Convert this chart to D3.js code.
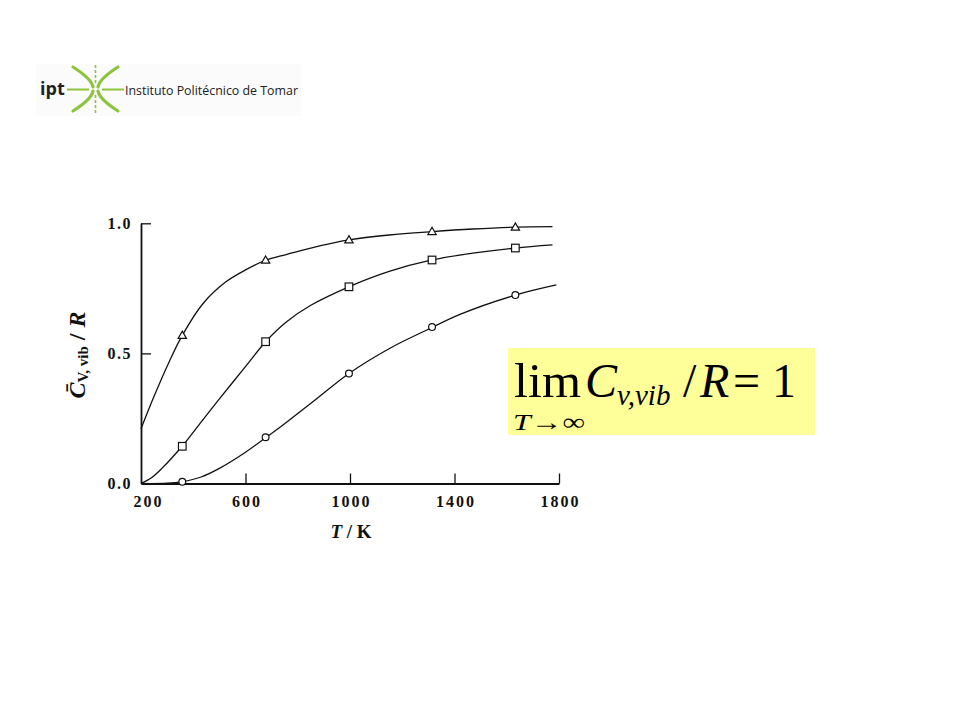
<!DOCTYPE html>
<html>
<head>
<meta charset="utf-8">
<script src="https://cdn.jsdelivr.net/npm/d3@7"></script>
<style>
  html, body { margin: 0; padding: 0; background: #fff; }
  svg { display: block; }
</style>
</head>
<body>
<svg id="chart" width="960" height="720"></svg>
<script>
// ---- data ----
const xTicks = [200, 600, 1000, 1400, 1800];
const yTicks = [0.0, 0.5, 1.0];
const markerT = [358, 677, 996, 1314, 1633];
const triVals = [0.569, 0.858, 0.936, 0.968, 0.985];
const sqVals  = [0.143, 0.545, 0.756, 0.859, 0.905];
const cirVals = [0.007, 0.178, 0.423, 0.601, 0.724];
// curve traces (T, C/R)
const triCurveT = [200, 250, 308, 358, 436, 525, 602, 677, 755, 850, 996, 1150, 1314, 1470, 1633, 1775];
const triCurveV = [0.21, 0.335, 0.468, 0.569, 0.690, 0.775, 0.822, 0.858, 0.880, 0.905, 0.936, 0.955, 0.968, 0.978, 0.985, 0.987];
const sqCurveT = [200, 240, 280, 358, 430, 500, 602, 677, 755, 850, 996, 1150, 1314, 1470, 1633, 1775];
const sqCurveV = [0.0, 0.022, 0.058, 0.144, 0.236, 0.325, 0.452, 0.545, 0.620, 0.685, 0.756, 0.815, 0.859, 0.885, 0.905, 0.917];
const cirCurveT = [200, 300, 358, 430, 500, 600, 677, 732, 860, 996, 1153, 1294, 1421, 1633, 1790];
const cirCurveV = [0.0, 0.001, 0.007, 0.025, 0.058, 0.12, 0.176, 0.216, 0.316, 0.423, 0.520, 0.590, 0.650, 0.724, 0.763];

const svg = d3.select("#chart");

// ---- logo ----
const logo = svg.append("g");
logo.append("rect").attr("x", 36).attr("y", 64).attr("width", 265).attr("height", 52).attr("fill", "#fbfbfb");
logo.append("text").attr("x", 40).attr("y", 95)
  .attr("font-family", "'Open Sans', 'DejaVu Sans', sans-serif").attr("font-weight", "bold")
  .attr("font-size", 18).attr("fill", "#222").text("ipt");
const green = "#8cc43c";
logo.append("path")
  .attr("d", "M73,67 C84,74 92,81 93,87 M73,111 C84,104 92,97 93,91 M118,67 C107,74 99,81 98,87 M118,111 C107,104 99,97 98,91")
  .attr("fill", "none").attr("stroke", green).attr("stroke-width", 3.2).attr("stroke-linecap", "round");
logo.append("path")
  .attr("d", "M67,89.5 H89 M102,89.5 H124")
  .attr("fill", "none").attr("stroke", green).attr("stroke-width", 2.2);
logo.append("path")
  .attr("d", "M95.5,65 V84 M95.5,95 V113")
  .attr("fill", "none").attr("stroke", green).attr("stroke-width", 1.6).attr("stroke-dasharray", "3,2");
logo.append("text").attr("x", 125).attr("y", 94.5)
  .attr("font-family", "'Open Sans', 'Noto Sans', sans-serif")
  .attr("font-size", 13.5).attr("fill", "#222")
  .attr("textLength", 173).attr("lengthAdjust", "spacingAndGlyphs")
  .text("Instituto Politécnico de Tomar");

// ---- chart ----
const x = d3.scaleLinear().domain([200, 1800]).range([141, 559]);
const y = d3.scaleLinear().domain([0, 1]).range([483.5, 223.3]);
const serif = "'Liberation Serif', 'DejaVu Serif', serif";
const ink = "#111";

const xAxis = svg.append("g").attr("transform", `translate(0,${y(0)})`)
  .call(d3.axisBottom(x).tickValues(xTicks).tickSizeInner(-10).tickSizeOuter(0).tickPadding(12).tickFormat(d3.format("d")));
xAxis.select(".domain").attr("stroke", ink).attr("stroke-width", 1.8);
xAxis.selectAll(".tick line").attr("stroke", ink).attr("stroke-width", 1.3);
xAxis.selectAll(".tick").filter(d => d === 200).select("line").remove();
xAxis.selectAll(".tick text")
  .attr("font-family", serif).attr("font-weight", "bold").attr("font-size", 16)
  .attr("letter-spacing", "2px").attr("fill", ink)
  .attr("dx", d => d === 200 ? 7 : 1);

const yAxis = svg.append("g").attr("transform", `translate(${x(200)},0)`)
  .call(d3.axisLeft(y).tickValues(yTicks).tickSizeInner(-10).tickSizeOuter(0).tickPadding(9).tickFormat(d3.format(".1f")));
yAxis.select(".domain").attr("stroke", ink).attr("stroke-width", 1.8);
yAxis.selectAll(".tick line").attr("stroke", ink).attr("stroke-width", 1.3);
yAxis.selectAll(".tick").filter(d => d === 0).select("line").remove();
yAxis.selectAll(".tick text")
  .attr("font-family", serif).attr("font-weight", "bold").attr("font-size", 16)
  .attr("letter-spacing", "1.5px").attr("fill", ink);

// curves
const line = d3.line().x(d => x(d[0])).y(d => y(d[1])).curve(d3.curveCatmullRom.alpha(0.5));
const curves = [
  d3.zip(triCurveT, triCurveV),
  d3.zip(sqCurveT, sqCurveV),
  d3.zip(cirCurveT, cirCurveV)
];
svg.append("g").selectAll("path").data(curves).join("path")
  .attr("d", line).attr("fill", "none").attr("stroke", ink).attr("stroke-width", 1.3);

// markers
const tri = d3.symbol().type(d3.symbolTriangle).size(30);
svg.append("g").selectAll("path").data(d3.zip(markerT, triVals)).join("path")
  .attr("d", tri).attr("transform", d => `translate(${x(d[0])},${y(d[1]) + 0.5})`)
  .attr("fill", "#fff").attr("stroke", ink).attr("stroke-width", 1.2);
svg.append("g").selectAll("rect").data(d3.zip(markerT, sqVals)).join("rect")
  .attr("x", d => x(d[0]) - 3.8).attr("y", d => y(d[1]) - 3.8)
  .attr("width", 7.6).attr("height", 7.6)
  .attr("fill", "#fff").attr("stroke", ink).attr("stroke-width", 1.2);
svg.append("g").selectAll("circle").data(d3.zip(markerT, cirVals)).join("circle")
  .attr("cx", d => x(d[0])).attr("cy", d => y(d[1])).attr("r", 3.4)
  .attr("fill", "#fff").attr("stroke", ink).attr("stroke-width", 1.2);

// axis titles
const xt = svg.append("text").attr("x", 351).attr("y", 538).attr("text-anchor", "middle")
  .attr("font-family", serif).attr("font-weight", "bold").attr("font-size", 19).attr("fill", ink);
xt.append("tspan").attr("font-style", "italic").text("T");
xt.append("tspan").text(" / K");

const yt = svg.append("text").attr("transform", "translate(85,355) rotate(-90)")
  .attr("text-anchor", "middle")
  .attr("font-family", serif).attr("font-weight", "bold").attr("font-size", 24).attr("fill", ink);
yt.append("tspan").attr("font-style", "italic").text("C\u0304");
yt.append("tspan").attr("font-size", 15).attr("dy", 3).text("V, vib");
yt.append("tspan").attr("dy", -3).text(" / ");
yt.append("tspan").attr("font-style", "italic").text("R");

// ---- formula box ----
const fb = svg.append("g");
fb.append("rect").attr("x", 508).attr("y", 348).attr("width", 307).attr("height", 87).attr("fill", "#ffff99");
const tn = "'Liberation Serif', 'Times New Roman', serif";
fb.append("text").attr("x", 514).attr("y", 397).attr("font-family", tn).attr("font-size", 48)
  .attr("textLength", 67).attr("lengthAdjust", "spacingAndGlyphs").attr("fill", "#000").text("lim");
fb.append("text").attr("x", 585).attr("y", 397).attr("font-family", tn).attr("font-style", "italic").attr("font-size", 48).attr("fill", "#000").text("C");
fb.append("text").attr("x", 617).attr("y", 405).attr("font-family", tn).attr("font-style", "italic").attr("font-size", 29).attr("fill", "#000").text("v,vib");
fb.append("text").attr("x", 683).attr("y", 397).attr("font-family", tn).attr("font-size", 48).attr("fill", "#000").text("/");
fb.append("text").attr("x", 700).attr("y", 397).attr("font-family", tn).attr("font-style", "italic").attr("font-size", 48).attr("fill", "#000").text("R");
fb.append("text").attr("x", 733).attr("y", 397).attr("font-family", tn).attr("font-size", 48).attr("fill", "#000").text("=");
fb.append("text").attr("x", 772).attr("y", 397).attr("font-family", tn).attr("font-size", 48).attr("fill", "#000").text("1");
const sub = fb.append("text").attr("x", 513).attr("y", 430).attr("font-family", tn).attr("font-size", 24).attr("fill", "#000")
  .attr("textLength", 72).attr("lengthAdjust", "spacingAndGlyphs");
sub.append("tspan").attr("font-style", "italic").text("T");
sub.append("tspan").text("\u2192\u221E");
</script>
</body>
</html>
